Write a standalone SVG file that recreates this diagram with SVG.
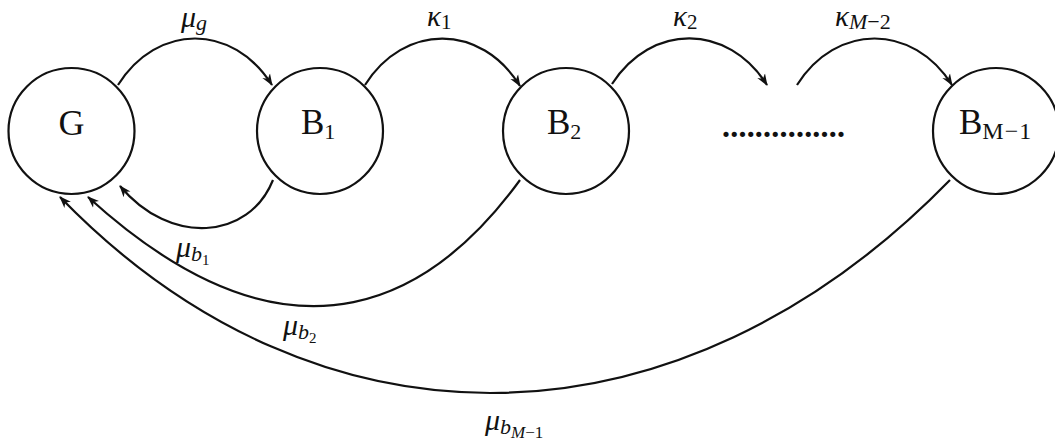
<svg xmlns="http://www.w3.org/2000/svg" width="1055" height="444" viewBox="0 0 1055 444">
<style>
.node{fill:none;stroke:#111;stroke-width:2.2}
.edge{fill:none;stroke:#111;stroke-width:2.2;marker-end:url(#ah)}
.lbl{font-family:"Liberation Serif","DejaVu Serif",serif;fill:#111}
.m{font-style:italic}
</style>
<defs>
<marker id="ah" markerWidth="13" markerHeight="10" refX="11" refY="5" orient="auto" markerUnits="userSpaceOnUse">
<path d="M0,0.5 L12,5 L0,9.5 L3.5,5 z" fill="#111"/>
</marker>
</defs>
<rect width="1055" height="444" fill="#fff"/>
<g id="node-G">
<circle class="node" cx="71.5" cy="131" r="63"/>
<text class="lbl" x="71.5" y="135" font-size="36" text-anchor="middle">G</text>
</g>
<g id="node-B1">
<circle class="node" cx="320" cy="131" r="63"/>
<text class="lbl" x="301" y="134" font-size="35">B<tspan font-size="22" y="139">1</tspan></text>
</g>
<g id="node-B2">
<circle class="node" cx="566" cy="131" r="63"/>
<text class="lbl" x="547" y="134" font-size="35">B<tspan font-size="22" y="139">2</tspan></text>
</g>
<g id="node-dots">
<text class="lbl" x="722" y="137" font-size="32" font-weight="bold" textLength="123" lengthAdjust="spacing">...............</text>
</g>
<g id="node-BM1">
<circle class="node" cx="996" cy="131" r="63"/>
<text class="lbl" x="959" y="134" font-size="35">B<tspan font-size="24" y="139" letter-spacing="1">M−1</tspan></text>
</g>
<g id="connectors">
<path class="edge" d="M118,85 C157,23 233,23 272,85"/>
<path class="edge" d="M365,85 C404,23 481,23 520,86"/>
<path class="edge" d="M612,84 C651,23 728,23 767,85"/>
<path class="edge" d="M797,85 C836,23 913,23 952,85"/>
<path class="edge" d="M273,180 C249,240 170,246 120,186"/>
<path class="edge" d="M520,180 C440,290 300,390 88,197"/>
<path class="edge" d="M950,180 C680,457 320,465 60,197"/>
</g>
<g id="labels">
<text class="lbl m" x="181" y="27" font-size="30">μ<tspan font-size="22" y="30">g</tspan></text>
<text class="lbl m" x="427" y="26" font-size="29">κ<tspan font-size="21" y="29" font-style="normal">1</tspan></text>
<text class="lbl m" x="673" y="26" font-size="29">κ<tspan font-size="21" y="29" font-style="normal">2</tspan></text>
<text class="lbl m" x="835" y="26" font-size="29">κ<tspan font-size="22" y="29">M</tspan><tspan font-size="22" font-style="normal">−2</tspan></text>
<text class="lbl m" x="176" y="257" font-size="30">μ<tspan font-size="22" y="261">b</tspan><tspan font-size="15" y="265" font-style="normal">1</tspan></text>
<text class="lbl m" x="283" y="335" font-size="30">μ<tspan font-size="22" y="339">b</tspan><tspan font-size="15" y="343" font-style="normal">2</tspan></text>
<text class="lbl m" x="485" y="430" font-size="30">μ<tspan font-size="22" y="434">b</tspan><tspan font-size="17" y="438">M</tspan><tspan font-size="17" y="438" font-style="normal">−1</tspan></text>
</g>
</svg>
